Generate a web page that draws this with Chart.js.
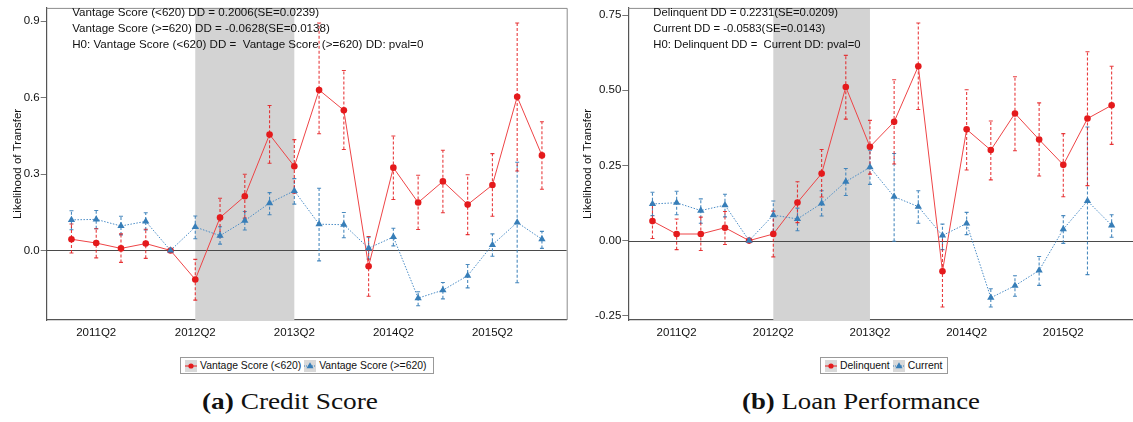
<!DOCTYPE html>
<html>
<head>
<meta charset="utf-8">
<script src="https://cdn.jsdelivr.net/npm/chart.js@4.4.1/dist/chart.umd.min.js"></script>
<style>
  html, body { margin:0; padding:0; background:#fff; width:1133px; height:422px; overflow:hidden; }
  #wrap { position:relative; width:1133px; height:422px; overflow:hidden; }
  canvas { position:absolute; top:0; }
  .legend { position:absolute; top:357px; height:17px; border:1px solid #999; background:#fff;
            font-family:'Liberation Sans', Arial, sans-serif; font-size:10.4px; color:#111;
            display:flex; align-items:center; white-space:nowrap; box-sizing:border-box; padding:0 2px; }
  .legend .key { display:inline-block; width:12px; height:12px; background:#d9d9d9; margin:0 3px 0 2px; vertical-align:middle; }
  .legend .key svg { display:block; }
  .legend .lbl { margin-right:1px; }
  .cap { position:absolute; top:388px; font-family:'Liberation Serif', 'Times New Roman', serif; font-size:24px; color:#111; white-space:nowrap; transform-origin:left top; }
  .cap b { font-weight:bold; }
</style>
</head>
<body>
<div id="wrap">
  <canvas id="cA" width="575" height="345" style="left:0px;width:575px;height:345px"></canvas>
  <canvas id="cB" width="565" height="345" style="left:575px;width:565px;height:345px"></canvas>
  <div class="legend" style="left:180px;width:254px;">
    <span class="key"><svg width="12" height="12"><line x1="0" y1="6" x2="12" y2="6" stroke="#e41a1c" stroke-width="1"/><circle cx="6" cy="6" r="2.6" fill="#e41a1c"/></svg></span><span class="lbl">Vantage Score (&lt;620)</span>
    <span class="key"><svg width="12" height="12"><line x1="0" y1="6" x2="12" y2="6" stroke="#377eb8" stroke-width="1" stroke-dasharray="1,1"/><polygon points="6,2.2 9.5,8.2 2.5,8.2" fill="#377eb8"/></svg></span><span class="lbl">Vantage Score (&gt;=620)</span>
  </div>
  <div class="legend" style="left:820px;width:128px;">
    <span class="key"><svg width="12" height="12"><line x1="0" y1="6" x2="12" y2="6" stroke="#e41a1c" stroke-width="1"/><circle cx="6" cy="6" r="2.6" fill="#e41a1c"/></svg></span><span class="lbl">Delinquent</span>
    <span class="key"><svg width="12" height="12"><line x1="0" y1="6" x2="12" y2="6" stroke="#377eb8" stroke-width="1" stroke-dasharray="1,1"/><polygon points="6,2.2 9.5,8.2 2.5,8.2" fill="#377eb8"/></svg></span><span class="lbl">Current</span>
  </div>
  <div class="cap" id="capA" style="left:202px;"><b>(a)</b> Credit Score</div>
  <div class="cap" id="capB" style="left:742px;"><b>(b)</b> Loan Performance</div>
</div>
<script>
// ---------------- DATA ----------------
const quarters = ['2011Q1','2011Q2','2011Q3','2011Q4','2012Q1','2012Q2','2012Q3','2012Q4',
                  '2013Q1','2013Q2','2013Q3','2013Q4','2014Q1','2014Q2','2014Q3','2014Q4',
                  '2015Q1','2015Q2','2015Q3','2015Q4'];
const xTickLabels = ['2011Q2','2012Q2','2013Q2','2014Q2','2015Q2'];
const shadeFromQ = '2012Q2';
const shadeToQ = '2013Q2';

// Panel (a) Credit Score
const vsLowEst = [0.044,0.029,0.008,0.027,0,-0.114,0.129,0.213,0.455,0.330,0.630,0.550,-0.062,0.325,0.188,0.271,0.180,0.257,0.603,0.373];
const vsLowLo  = [-0.010,-0.029,-0.047,-0.031,0,-0.195,0.053,0.127,0.342,0.225,0.458,0.396,-0.180,0.200,0.082,0.148,0.062,0.134,0.312,0.240];
const vsLowHi  = [0.104,0.085,0.065,0.083,0,-0.035,0.205,0.299,0.569,0.435,0.893,0.706,0.055,0.449,0.295,0.393,0.297,0.380,0.893,0.505];
const vsHighEst = [0.120,0.122,0.096,0.114,0,0.092,0.058,0.117,0.186,0.234,0.103,0.101,0.009,0.053,-0.187,-0.156,-0.099,0.022,0.110,0.044];
const vsHighLo  = [0.081,0.085,0.061,0.080,0,0.046,0.025,0.080,0.140,0.182,-0.041,0.050,-0.034,0.018,-0.217,-0.190,-0.147,-0.023,-0.127,0.008];
const vsHighHi  = [0.156,0.157,0.134,0.148,0,0.135,0.093,0.153,0.227,0.282,0.244,0.149,0.052,0.087,-0.162,-0.126,-0.055,0.065,0.346,0.075];
const yTicksA = [0, 0.3, 0.6, 0.9];
const annotA = ['Vantage Score (<620) DD = 0.2006(SE=0.0239)',
                'Vantage Score (>=620) DD = -0.0628(SE=0.0138)',
                'H0: Vantage Score (<620) DD =  Vantage Score (>=620) DD: pval=0'];
const seriesNamesA = ['Vantage Score (<620)', 'Vantage Score (>=620)'];

// Panel (b) Loan Performance
const delEst = [0.065,0.022,0.022,0.043,0,0.022,0.127,0.223,0.511,0.312,0.395,0.580,-0.102,0.370,0.301,0.423,0.336,0.252,0.406,0.450];
const delLo  = [0.007,-0.030,-0.033,-0.013,0,-0.054,0.060,0.145,0.404,0.221,0.255,0.436,-0.221,0.235,0.202,0.299,0.215,0.146,0.183,0.320];
const delHi  = [0.123,0.072,0.078,0.097,0,0.098,0.196,0.303,0.616,0.400,0.535,0.724,0.017,0.502,0.398,0.545,0.458,0.356,0.628,0.580];
const curEst = [0.122,0.126,0.100,0.118,0,0.085,0.072,0.124,0.196,0.244,0.146,0.113,0.017,0.057,-0.190,-0.150,-0.099,0.038,0.132,0.051];
const curLo  = [0.083,0.086,0.058,0.079,0,0.031,0.033,0.082,0.150,0.187,-0.002,0.058,-0.030,0.020,-0.221,-0.185,-0.149,-0.009,-0.113,0.011];
const curHi  = [0.161,0.164,0.139,0.154,0,0.132,0.108,0.166,0.240,0.301,0.290,0.166,0.055,0.094,-0.160,-0.117,-0.053,0.083,0.378,0.086];
const yTicksB = [-0.25, 0, 0.25, 0.50, 0.75];
const annotB = ['Delinquent DD = 0.2231(SE=0.0209)',
                'Current DD = -0.0583(SE=0.0143)',
                'H0: Delinquent DD =  Current DD: pval=0'];
const seriesNamesB = ['Delinquent', 'Current'];

const yTitle = 'Likelihood of Transfer';

// ---------------- STYLE ----------------
const RED = '#e41a1c', BLUE = '#377eb8';
const FONT = "'Liberation Sans', Arial, Helvetica, sans-serif";
Chart.defaults.font.family = FONT;

const decor = {
  id: 'decor',
  beforeDatasetsDraw(chart, args, o) {
    const {ctx, chartArea: a, scales: {x, y}} = chart;
    ctx.save();
    const x0 = x.getPixelForValue(quarters.indexOf(o.shadeFrom));
    const x1 = x.getPixelForValue(quarters.indexOf(o.shadeTo));
    ctx.fillStyle = '#d3d3d3';
    ctx.fillRect(x0, a.top, x1 - x0, a.bottom - a.top);
    const y0 = Math.round(y.getPixelForValue(0)) + 0.5;
    ctx.strokeStyle = '#4a4a4a'; ctx.lineWidth = 1.2;
    ctx.beginPath(); ctx.moveTo(a.left, y0); ctx.lineTo(a.right, y0); ctx.stroke();
    chart.data.datasets.forEach(ds => {
      if (!ds.errLo) return;
      ctx.strokeStyle = ds.errColor; ctx.lineWidth = 1.1;
      ds.errLo.forEach((lo, i) => {
        const hi = ds.errHi[i];
        if (lo === hi) return;
        const px = x.getPixelForValue(ds.data[i].x);
        const pl = y.getPixelForValue(lo), ph = y.getPixelForValue(hi);
        ctx.setLineDash([3, 2]);
        ctx.beginPath(); ctx.moveTo(px, pl); ctx.lineTo(px, ph); ctx.stroke();
        ctx.setLineDash([]);
        ctx.beginPath();
        ctx.moveTo(px - 2, pl); ctx.lineTo(px + 2, pl);
        ctx.moveTo(px - 2, ph); ctx.lineTo(px + 2, ph);
        ctx.stroke();
      });
    });
    ctx.restore();
  },
  afterDraw(chart, args, o) {
    const {ctx, chartArea: a} = chart;
    ctx.save();
    ctx.strokeStyle = '#8c8c8c'; ctx.lineWidth = 1;
    ctx.beginPath();
    ctx.moveTo(a.left, a.top + 0.5); ctx.lineTo(a.right + 0.5, a.top + 0.5); ctx.lineTo(a.right + 0.5, a.bottom);
    ctx.stroke();
    ctx.fillStyle = '#111';
    ctx.font = o.annotSize + 'px ' + FONT;
    ctx.textBaseline = 'middle';
    o.annot.forEach((t, i) => ctx.fillText(t, a.left + o.annotDx, 13 + i * 15.8));
    ctx.translate(o.titleX, (a.top + a.bottom) / 2);
    ctx.rotate(-Math.PI / 2);
    ctx.textAlign = 'center';
    ctx.font = '11.5px ' + FONT;
    ctx.fillText(yTitle, 0, 0);
    ctx.restore();
  }
};

function makeChart(id, names, est1, lo1, hi1, est2, lo2, hi2, yMin, yMax, yTicks, dec, yWidth, padRight, annot, annotDx, annotSize, titleX) {
  const pts = arr => arr.map((v, i) => ({x: i, y: v}));
  const tickPos = xTickLabels.map(l => quarters.indexOf(l));
  return new Chart(document.getElementById(id), {
    type: 'line',
    data: {
      datasets: [
        { label: names[1], data: pts(est2), errLo: lo2, errHi: hi2, errColor: 'rgba(55,126,184,0.9)',
          borderColor: '#4a8cc6', borderWidth: 1, borderDash: [1.5, 1.5], pointStyle: 'triangle',
          pointRadius: 4.2, pointBackgroundColor: BLUE, pointBorderColor: BLUE, pointBorderWidth: 0, tension: 0 },
        { label: names[0], data: pts(est1), errLo: lo1, errHi: hi1, errColor: 'rgba(228,26,28,0.85)',
          borderColor: '#ee4446', borderWidth: 1, pointStyle: 'circle',
          pointRadius: 3.3, pointBackgroundColor: RED, pointBorderColor: RED, pointBorderWidth: 0, tension: 0 }
      ]
    },
    options: {
      responsive: false, animation: false, devicePixelRatio: 1,
      layout: { padding: { top: 6, right: padRight, left: 0, bottom: 0 } },
      plugins: { legend: { display: false }, tooltip: { enabled: false },
                 decor: { shadeFrom: shadeFromQ, shadeTo: shadeToQ, annot: annot, annotDx: annotDx, annotSize: annotSize, titleX: titleX } },
      scales: {
        x: { type: 'linear', min: -1, max: 20,
             afterBuildTicks: s => { s.ticks = tickPos.map(v => ({value: v})); },
             afterFit: s => { s.height = 25; },
             ticks: { autoSkip: false, maxRotation: 0, padding: 6, color: '#111', font: { size: 11.5 },
                      callback: (v, i) => xTickLabels[i] },
             grid: { display: true, drawOnChartArea: false, drawTicks: false },
             border: { display: true, color: '#555', width: 1.2 } },
        y: { type: 'linear', min: yMin, max: yMax,
             afterBuildTicks: s => { s.ticks = yTicks.map(v => ({value: v})); },
             afterFit: s => { s.width = yWidth; },
             ticks: { padding: 1, color: '#111', font: { size: 11.5 }, callback: v => v.toFixed(dec) },
             grid: { display: true, drawOnChartArea: false, drawTicks: true, tickLength: 6, color: '#777' },
             border: { display: true, color: '#555', width: 1.2 } }
      }
    },
    plugins: [decor]
  });
}

makeChart('cA', seriesNamesA, vsLowEst, vsLowLo, vsLowHi, vsHighEst, vsHighLo, vsHighHi,
          -0.273, 0.952, yTicksA, 1, 46.7, 8.3, annotA, 25.5, 11.6, 17.5);
makeChart('cB', seriesNamesB, delEst, delLo, delHi, curEst, curLo, curHi,
          -0.264, 0.774, yTicksB, 2, 53.3, 1.3, annotB, 25, 11.3, 12.5);

function fitCap(id, w) {
  const el = document.getElementById(id);
  const cw = el.getBoundingClientRect().width;
  el.style.transform = 'scaleX(' + (w / cw) + ')';
}
fitCap('capA', 176);
fitCap('capB', 238);
</script>
</body>
</html>
